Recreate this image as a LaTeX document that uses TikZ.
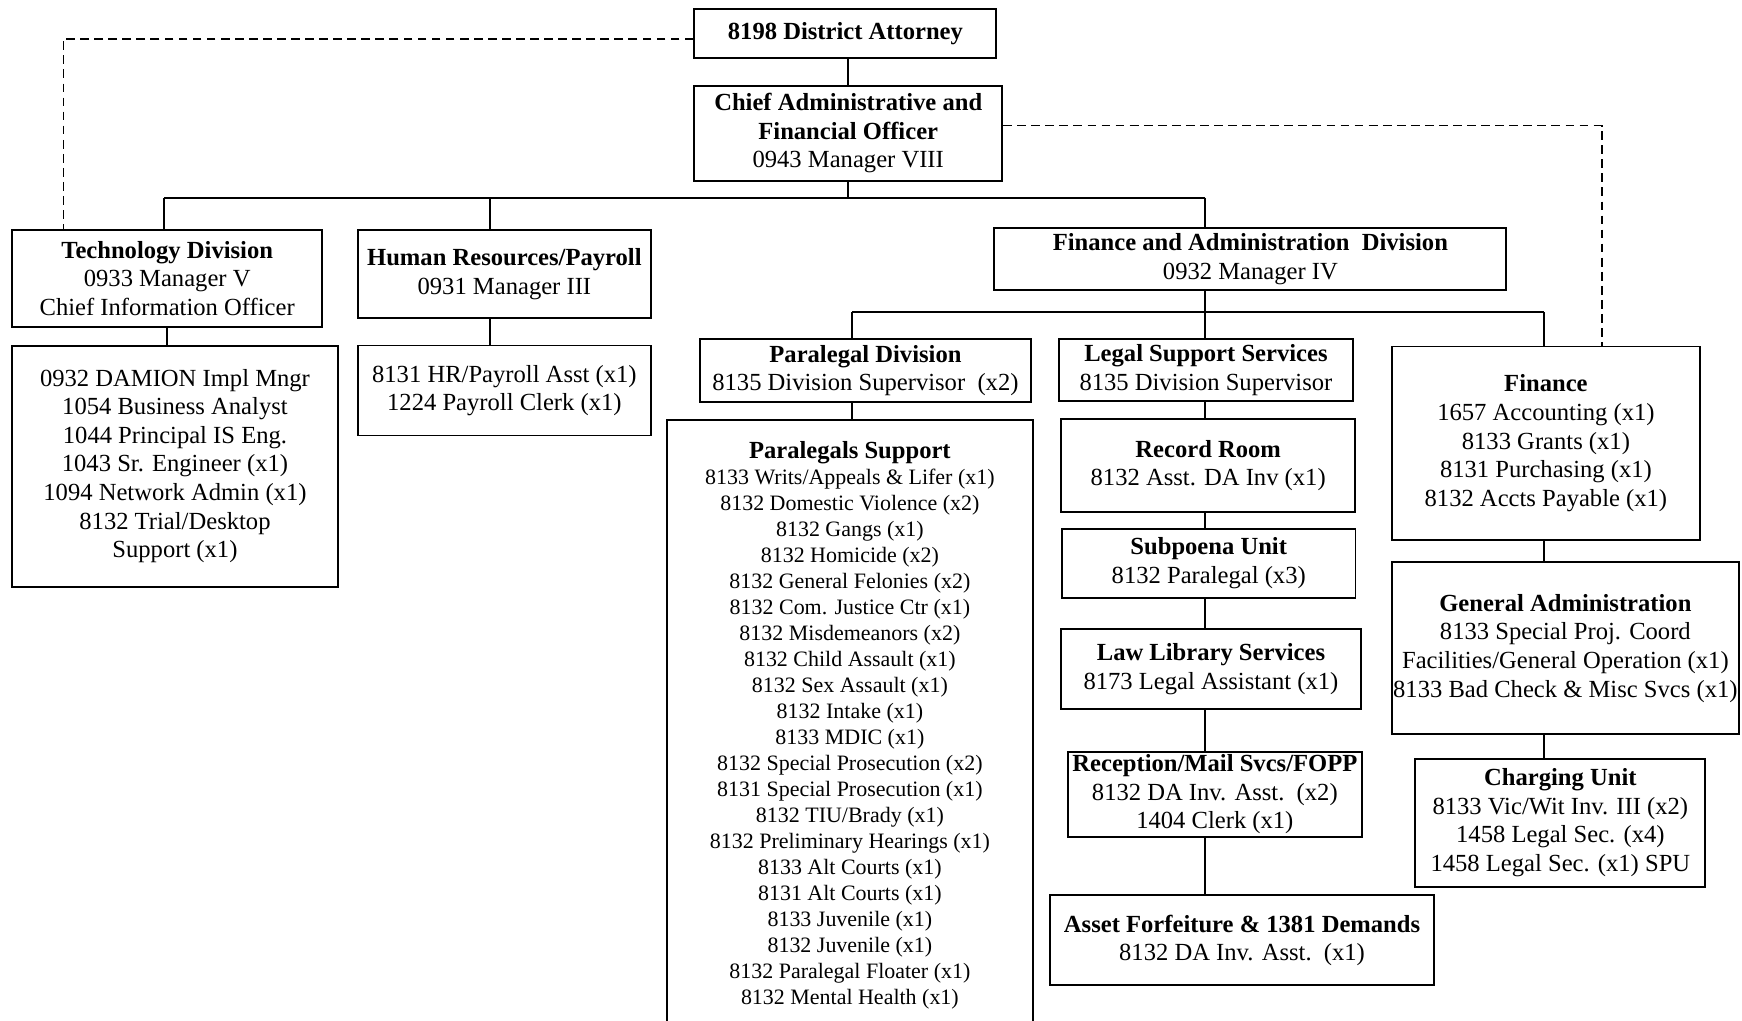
\documentclass[tikz,border=0pt]{standalone}
\usepackage{fontspec}
\setmainfont{Liberation Serif}
\tikzset{
  orgbox/.style={draw, line width=1.1pt, align=center, inner sep=0pt, font=\fontsize{14}{16.3}\selectfont},
  link/.style={line width=1.1pt},
  dotlink/.style={line width=0.9pt, dash pattern=on 5pt off 3pt},
}
\begin{document}
\begin{tikzpicture}[x=0.2222mm, y=-0.2222mm]
\useasboundingbox[fill=white] (0,0) rectangle (1568,919);

% 顶层
\node[orgbox, minimum width=60.4mm, minimum height=9.8mm] (da) at (761,30) {\textbf{8198 District Attorney}};
\node[orgbox, minimum width=61.6mm, minimum height=18.9mm] (cafo) at (763.5,120) {\textbf{Chief Administrative and}\\\textbf{Financial Officer}\\0943 Manager VIII};

% 第二层: 三个部门
\node[orgbox, minimum width=62.0mm, minimum height=19.3mm] (tech) at (150.5,250.5) {\textbf{Technology Division}\\0933 Manager V\\Chief Information Officer};
\node[orgbox, minimum width=58.7mm, minimum height=17.6mm] (hr) at (454,246.5) {\textbf{Human Resources/Payroll}\\0931 Manager III};
\node[orgbox, minimum width=102.4mm, minimum height=12.4mm] (fad) at (1125.5,233) {\textbf{Finance and Administration~~Division}\\0932 Manager IV};

% 部门人员
\node[orgbox, minimum width=65.1mm, minimum height=48.2mm] (techstaff) at (157.5,419.5) {0932 DAMION Impl Mngr\\1054 Business Analyst\\1044 Principal IS Eng.\\1043 Sr. Engineer (x1)\\1094 Network Admin (x1)\\8132 Trial/Desktop\\Support (x1)};
\node[orgbox, minimum width=58.7mm, minimum height=18.0mm] (hrstaff) at (454,351.5) {8131 HR/Payroll Asst (x1)\\1224 Payroll Clerk (x1)};

% 财务与行政下属
\node[orgbox, minimum width=66.2mm, minimum height=12.7mm] (pdiv) at (779,333.5) {\textbf{Paralegal Division}\\8135 Division Supervisor~~(x2)};
\node[orgbox, minimum width=58.9mm, minimum height=12.4mm] (lss) at (1085.5,333) {\textbf{Legal Support Services}\\8135 Division Supervisor};
\node[orgbox, minimum width=61.6mm, minimum height=38.7mm] (fin) at (1391.5,399) {\textbf{Finance}\\1657 Accounting (x1)\\8133 Grants (x1)\\8131 Purchasing (x1)\\8132 Accts Payable (x1)};

% 律师助理 (下边框在图外)
\node[orgbox, draw=none, minimum width=72.9mm, minimum height=121.8mm, font=\fontsize{12.5}{14.8}\selectfont] (psup) at (765,653) {{\fontsize{14}{14.8}\selectfont\textbf{Paralegals Support}}\\8133 Writs/Appeals \& Lifer (x1)\\8132 Domestic Violence (x2)\\8132 Gangs (x1)\\8132 Homicide (x2)\\8132 General Felonies (x2)\\8132 Com. Justice Ctr (x1)\\8132 Misdemeanors (x2)\\8132 Child Assault (x1)\\8132 Sex Assault (x1)\\8132 Intake (x1)\\8133 MDIC (x1)\\8132 Special Prosecution (x2)\\8131 Special Prosecution (x1)\\8132 TIU/Brady (x1)\\8132 Preliminary Hearings (x1)\\8133 Alt Courts (x1)\\8131 Alt Courts (x1)\\8133 Juvenile (x1)\\8132 Juvenile (x1)\\8132 Paralegal Floater (x1)\\8132 Mental Health (x1)};
\draw[link] (psup.south west) -- (psup.north west) -- (psup.north east) -- (psup.south east);

% 法律支持一列
\node[orgbox, minimum width=58.9mm, minimum height=18.7mm] (rec) at (1087.5,419) {\textbf{Record Room}\\8132 Asst. DA Inv (x1)};
\node[orgbox, minimum width=58.7mm, minimum height=13.8mm] (sub) at (1088,507) {\textbf{Subpoena Unit}\\8132 Paralegal (x3)};
\node[orgbox, minimum width=60.0mm, minimum height=16.0mm] (lib) at (1090,602) {\textbf{Law Library Services}\\8173 Legal Assistant (x1)};
\node[orgbox, minimum width=58.9mm, minimum height=16.9mm] (recp) at (1093.5,715) {\textbf{Reception/Mail Svcs/FOPP}\\8132 DA Inv. Asst.~~(x2)\\1404 Clerk (x1)};
\node[orgbox, minimum width=76.9mm, minimum height=18.0mm] (asset) at (1118,846.5) {\textbf{Asset Forfeiture \& 1381 Demands}\\8132 DA Inv. Asst.~~(x1)};

% 财务一列
\node[orgbox, minimum width=69.3mm, minimum height=34.4mm] (gen) at (1409,583.5) {\textbf{General Administration}\\8133 Special Proj. Coord\\Facilities/General Operation (x1)\\8133 Bad Check \& Misc Svcs (x1)};
\node[orgbox, minimum width=58.0mm, minimum height=25.6mm] (chg) at (1404.5,740.5) {\textbf{Charging Unit}\\8133 Vic/Wit Inv. III (x2)\\1458 Legal Sec. (x4)\\1458 Legal Sec. (x1) SPU};

% 实线连接
\coordinate (techtop) at (148,178);
\coordinate (hrtop) at (441,178);
\coordinate (fadtop) at (1085,178);
\draw[link] (da.south -| cafo.north) -- (cafo.north);
\draw[link] (cafo.south) -- (cafo.south |- techtop);
\draw[link] (techtop) -- (fadtop);
\draw[link] (techtop) -- (techtop |- tech.north);
\draw[link] (hrtop) -- (hrtop |- hr.north);
\draw[link] (fadtop) -- (fadtop |- fad.north);
\draw[link] (tech.south) -- (tech.south |- techstaff.north);
\draw[link] (hrtop |- hr.south) -- (hrtop |- hrstaff.north);

\coordinate (pdivtop) at (767,281);
\coordinate (lsstop) at (1085,281);
\coordinate (fintop) at (1390,281);
\draw[link] (pdivtop) -- (fintop);
\draw[link] (lsstop |- fad.south) -- (lsstop |- lss.north);
\draw[link] (pdivtop) -- (pdivtop |- pdiv.north);
\draw[link] (fintop) -- (fintop |- fin.north);
\draw[link] (pdivtop |- pdiv.south) -- (pdivtop |- psup.north);
\foreach \a/\b in {lss/rec, rec/sub, sub/lib, lib/recp, recp/asset}
  \draw[link] (lsstop |- \a.south) -- (lsstop |- \b.north);
\foreach \a/\b in {fin/gen, gen/chg}
  \draw[link] (fintop |- \a.south) -- (fintop |- \b.north);

% 虚线连接
\coordinate (dl) at (57,35);
\coordinate (dr) at (1442,113);
\draw[dotlink] (dl -| da.west) -- (dl) -- (dl |- tech.north);
\draw[dotlink] (dr -| cafo.east) -- (dr) -- (dr |- fin.north);
\end{tikzpicture}
\end{document}
